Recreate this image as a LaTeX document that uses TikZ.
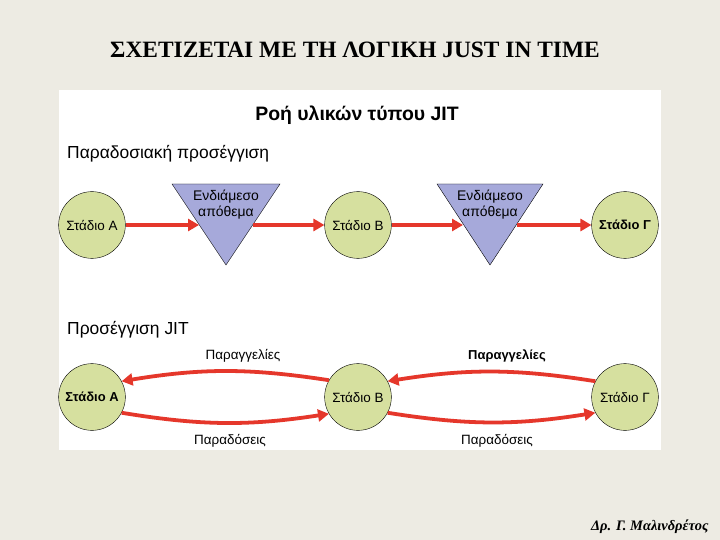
\documentclass[tikz,border=0pt]{standalone}
\usepackage{fontspec}
\setmainfont{Liberation Serif}
\setsansfont{Liberation Sans}
\usetikzlibrary{arrows.meta,positioning}
\definecolor{slidebg}{HTML}{EDEBE3}
\definecolor{stagegreen}{HTML}{D6E09F}
\definecolor{stocklilac}{HTML}{A6A9DA}
\definecolor{flowred}{HTML}{E5372B}
\tikzset{
  stage/.style={circle, draw=black, fill=stagegreen, minimum size=67pt, inner sep=0pt, font=\sffamily\fontsize{13.5}{15}\selectfont},
  stagebold/.style={stage, font=\sffamily\bfseries\fontsize{13}{15}\selectfont},
  stock/.style={draw=black, fill=stocklilac, line join=miter},
  stocktext/.style={align=center, font=\sffamily\fontsize{14}{16}\selectfont, inner sep=0pt},
  flow/.style={draw=flowred, line width=3.8pt, -{Triangle[length=11pt,width=12pt]}},
  flowlbl/.style={font=\sffamily\fontsize{13.5}{16}\selectfont, inner sep=0pt},
  heading/.style={anchor=west, font=\sffamily\fontsize{17.5}{20}\selectfont, inner sep=0pt},
}

\begin{document}
\begin{tikzpicture}[x=1bp,y=-1bp]
\fill[slidebg] (0,0) rectangle (720,540);
\useasboundingbox (0,0) rectangle (720,540);
\fill[white] (59,90) rectangle (661,450);
\node[font=\bfseries\fontsize{23.5}{26}\selectfont] (title) at (355,50) {ΣΧΕΤΙΖΕΤΑΙ ΜΕ ΤΗ ΛΟΓΙΚΗ JUST IN TIME};
\node[font=\sffamily\bfseries\fontsize{19.5}{23}\selectfont] (ptitle) at (357,115) {Ροή υλικών τύπου JIT};

% traditional
\node[heading] (trad) at (67,154) {Παραδοσιακή προσέγγιση};
\node[stage] (a1) at (92,225) {Στάδιο Α};
\node[stage] (b1) at (358,225) {Στάδιο Β};
\node[stagebold] (g1) at (625,225) {Στάδιο Γ};
\path[stock] (172,184) -- (280,184) -- (226,265) -- cycle;
\path[stock] (437,184) -- (543,184) -- (490,265) -- cycle;
\node[stocktext] (s1) at (226,205) {Ενδιάμεσο\\απόθεμα};
\node[stocktext] (s2) at (490,205) {Ενδιάμεσο\\απόθεμα};
\coordinate (s1in) at (199,225);
\coordinate (s1out) at (253,225);
\coordinate (s2in) at (463,225);
\coordinate (s2out) at (517,225);
\draw[flow] (a1) -- (s1in);
\draw[flow] (s1out) -- (b1);
\draw[flow] (b1) -- (s2in);
\draw[flow] (s2out) -- (g1);

% JIT
\node[heading] (jit) at (67,330) {Προσέγγιση JIT};
\node[stagebold] (a2) at (92,397) {Στάδιο Α};
\node[stage] (b2) at (358,397) {Στάδιο Β};
\node[stage] (g2) at (625,397) {Στάδιο Γ};
\draw[flow] (b2.150) to[bend right=9] (a2.28);
\draw[flow] (g2.152) to[bend right=9] (b2.28);
\draw[flow] (a2.-28) to[bend right=9] (b2.-150);
\draw[flow] (b2.-28) to[bend right=9] (g2.-152);
\node[flowlbl] (o1) at (243,356) {Παραγγελίες};
\node[flowlbl, font=\sffamily\bfseries\fontsize{13}{16}\selectfont] (o2) at (507,356) {Παραγγελίες};
\node[flowlbl] (d1) at (230,441) {Παραδόσεις};
\node[flowlbl] (d2) at (497,441) {Παραδόσεις};

\node[anchor=east, font=\bfseries\itshape\fontsize{14.5}{16}\selectfont] (author) at (712,527) {Δρ. Γ. Μαλινδρέτος};
\end{tikzpicture}
\end{document}
